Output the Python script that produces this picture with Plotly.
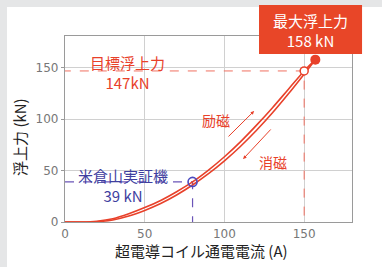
import plotly.graph_objects as go

# ---- data ----
current_up = [0, 10, 20, 30, 40, 50, 60, 70, 80, 90, 100, 110, 120, 130, 140, 150, 157]
force_up = [0, 0, 0.8, 3.2, 8, 14, 21, 29.5, 39, 50.5, 63.5, 78, 94, 111, 129, 147, 158]
current_down = [0, 10, 20, 30, 40, 50, 60, 70, 80, 90, 100, 110, 120, 130, 140, 150, 157]
force_down = [0, 0, 0.3, 2, 5.8, 11.3, 18, 26.3, 36, 47, 59.5, 73.5, 89, 106, 124.5, 144, 158]

target_current, target_force = 150, 147
max_current, max_force = 157, 158
yk_current, yk_force = 80, 39

x_ticks = [0, 50, 100, 150]
y_ticks = [0, 50, 100, 150]

RED = "#e8412a"
BLUE = "#3f3f9f"
PURPLE = "#6b55b8"
FONT = "Noto Sans CJK JP"

fig = go.Figure()

# target dashed lines
fig.add_trace(go.Scatter(x=[-2, target_current, target_current], y=[target_force, target_force, 0],
                         mode="lines", line=dict(color="#f07060", width=1, dash="dash"),
                         hoverinfo="skip", cliponaxis=False))
# Yonekurayama dashed lines
fig.add_trace(go.Scatter(x=[0, yk_current, yk_current], y=[yk_force, yk_force, 0],
                         mode="lines", line=dict(color=PURPLE, width=1.2, dash="dash"),
                         hoverinfo="skip"))

# curves
fig.add_trace(go.Scatter(x=current_up, y=force_up, mode="lines",
                         line=dict(color=RED, width=1.6, shape="spline"), name="励磁"))
fig.add_trace(go.Scatter(x=current_down, y=force_down, mode="lines",
                         line=dict(color=RED, width=1.6, shape="spline"), name="消磁"))

# markers
fig.add_trace(go.Scatter(x=[target_current], y=[target_force], mode="markers",
                         marker=dict(size=8, color="white", line=dict(color=RED, width=1.5))))
fig.add_trace(go.Scatter(x=[max_current], y=[max_force], mode="markers",
                         marker=dict(size=10, color=RED), cliponaxis=False))
fig.add_trace(go.Scatter(x=[yk_current], y=[yk_force], mode="markers",
                         marker=dict(size=9, color="rgba(0,0,0,0)", line=dict(color="#4b4bc0", width=1.6))))

C = dict(xanchor="center", yanchor="middle", showarrow=False)
ann = []
ann.append(dict(x=38.9, y=145, xref="x", yref="y", text="目標浮上力<br>147kN",
                font=dict(family=FONT, size=15, color=RED), **C))
ann.append(dict(x=36.4, y=36, xref="x", yref="y", text="米倉山実証機<br>39 kN",
                font=dict(family=FONT, size=15, color=BLUE), **C))
ann.append(dict(x=95, y=99, xref="x", yref="y", text="励磁",
                font=dict(family=FONT, size=14, color=RED), **C))
ann.append(dict(x=130.5, y=58.4, xref="x", yref="y", text="消磁",
                font=dict(family=FONT, size=14, color=RED), **C))
# arrows
ann.append(dict(x=118.6, y=108, ax=101.6, ay=81.8, xref="x", yref="y", axref="x", ayref="y",
                text="", showarrow=True, arrowhead=2, arrowsize=0.7, arrowwidth=1, arrowcolor=RED))
ann.append(dict(x=111.7, y=61.3, ax=129.9, ay=91.5, xref="x", yref="y", axref="x", ayref="y",
                text="", showarrow=True, arrowhead=2, arrowsize=0.7, arrowwidth=1, arrowcolor=RED))
# max box text
ann.append(dict(x=0.854, y=1.032, xref="paper", yref="paper", text="最大浮上力<br>158 kN",
                font=dict(family=FONT, size=15, color="white"), **C))
# axis titles
ann.append(dict(x=0.476, y=-0.155, xref="paper", yref="paper", text="超電導コイル通電電流 (A)",
                font=dict(family=FONT, size=15, color="#222"), **C))
ann.append(dict(x=-0.157, y=0.457, xref="paper", yref="paper", text="浮上力 (kN)", textangle=-90,
                font=dict(family=FONT, size=15, color="#222"), **C))

shapes = [
    dict(type="rect", xref="paper", yref="paper", x0=-0.202, x1=1.2, y0=-0.3, y1=1.156,
         fillcolor="white", line=dict(width=0), layer="below"),
    dict(type="rect", xref="paper", yref="paper", x0=0.676, x1=1.035, y0=0.903, y1=1.167,
         fillcolor="#e84628", line=dict(width=0), layer="above"),
]

fig.update_layout(
    width=382, height=267,
    margin=dict(l=65, r=30, t=36, b=45),
    paper_bgcolor="#e5e6e7", plot_bgcolor="white",
    showlegend=False,
    annotations=ann, shapes=shapes,
    font=dict(family=FONT),
)
axis_common = dict(showgrid=True, gridcolor="#d0d0d0", gridwidth=1, zeroline=False,
                   showline=True, linecolor="#9a9a9a", linewidth=1.2, mirror=True,
                   tickcolor="#9a9a9a",
                   tickfont=dict(family="DejaVu Sans", size=12, color="#777"))
fig.update_xaxes(range=[0, 180], tickvals=x_ticks, ticks="", **axis_common)
fig.update_yaxes(range=[0, 181], tickvals=y_ticks, ticks="outside", ticklen=3, **axis_common)

fig.write_html("out.html", config={"displayModeBar": False},
               post_script="document.body.style.margin='0px';")
